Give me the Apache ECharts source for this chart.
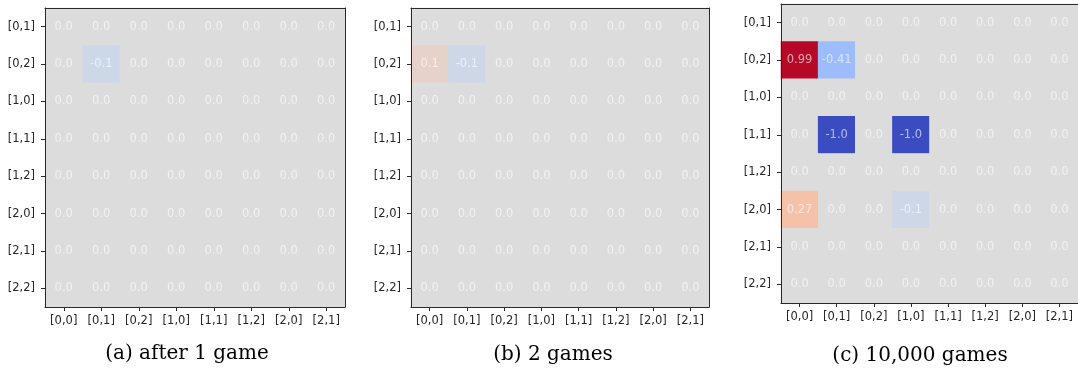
<!DOCTYPE html>
<html><head><meta charset="utf-8">
<script src="https://cdn.jsdelivr.net/npm/echarts@6/dist/echarts.min.js"></script>
<style>html,body{margin:0;padding:0;background:#fff}#c{width:1078px;height:368px}</style>
</head><body><div id="c"></div>
<script>
const xLabels = ['[0,0]','[0,1]','[0,2]','[1,0]','[1,1]','[1,2]','[2,0]','[2,1]'];
const yLabels = ['[0,1]','[0,2]','[1,0]','[1,1]','[1,2]','[2,0]','[2,1]','[2,2]'];
const captions = ['(a) after 1 game', '(b) 2 games', '(c) 10,000 games'];
// rows follow yLabels (top to bottom), columns follow xLabels
const valuesA = [
  [0,0,0,0,0,0,0,0],
  [0,-0.1,0,0,0,0,0,0],
  [0,0,0,0,0,0,0,0],
  [0,0,0,0,0,0,0,0],
  [0,0,0,0,0,0,0,0],
  [0,0,0,0,0,0,0,0],
  [0,0,0,0,0,0,0,0],
  [0,0,0,0,0,0,0,0]
];
const valuesB = [
  [0,0,0,0,0,0,0,0],
  [0.1,-0.1,0,0,0,0,0,0],
  [0,0,0,0,0,0,0,0],
  [0,0,0,0,0,0,0,0],
  [0,0,0,0,0,0,0,0],
  [0,0,0,0,0,0,0,0],
  [0,0,0,0,0,0,0,0],
  [0,0,0,0,0,0,0,0]
];
const valuesC = [
  [0,0,0,0,0,0,0,0],
  [0.99,-0.41,0,0,0,0,0,0],
  [0,0,0,0,0,0,0,0],
  [0,-1.0,0,-1.0,0,0,0,0],
  [0,0,0,0,0,0,0,0],
  [0.27,0,0,-0.1,0,0,0,0],
  [0,0,0,0,0,0,0,0],
  [0,0,0,0,0,0,0,0]
];
const coolwarm = ['#3b4cc0','#6282ea','#8db0fe','#b8d0f9','#dddcdc','#f5c4ac','#f49a7b','#dc5d4a','#b40426'];

const grids = [
  {left:45, top:8, width:300, height:299},
  {left:411, top:8, width:298, height:299},
  {left:781, top:4, width:299, height:299}
];
const capPos = [[187,354],[553,355],[920,356]];
const panels = [valuesA, valuesB, valuesC];

function toData(m){
  const out = [];
  m.forEach((row, r) => row.forEach((v, c) => out.push([c, r, v])));
  return out;
}
function fmt(v){ return Number.isInteger(v) ? v.toFixed(1) : String(v); }

const lineStyle = {color:'#2a2a2a', width:1};
const xAxes = [], yAxes = [];
grids.forEach((g,i) => {
  xAxes.push({type:'category', gridIndex:i, data:xLabels, position:'bottom', z:10,
    axisLine:{show:true, lineStyle},
    axisTick:{show:true, alignWithLabel:true, length:4, lineStyle},
    axisLabel:{color:'#262626', fontFamily:'DejaVu Sans', fontSize:11.5, margin:8, interval:0},
    splitLine:{show:false}});
  xAxes.push({type:'category', gridIndex:i, data:xLabels, position:'top', z:10,
    axisLine:{show:true, onZero:false, lineStyle}, axisTick:{show:false}, axisLabel:{show:false}, splitLine:{show:false}});
  yAxes.push({type:'category', gridIndex:i, data:yLabels, inverse:true, position:'left', z:10,
    axisLine:{show:true, lineStyle},
    axisTick:{show:true, alignWithLabel:true, length:4, lineStyle},
    axisLabel:{color:'#262626', fontFamily:'DejaVu Sans', fontSize:11.5, margin:10, interval:0},
    splitLine:{show:false}});
  yAxes.push({type:'category', gridIndex:i, data:yLabels, inverse:true, position:'right', z:10,
    axisLine:{show:true, onZero:false, lineStyle}, axisTick:{show:false}, axisLabel:{show:false}, splitLine:{show:false}});
});

const chart = echarts.init(document.getElementById('c'), null, {renderer:'canvas'});
chart.setOption({
  animation:false,
  backgroundColor:'#ffffff',
  grid: grids.map(g => Object.assign({show:true, borderWidth:0, backgroundColor:'#dddcdc'}, g)),
  xAxis: xAxes,
  yAxis: yAxes,
  visualMap:{show:false, min:-1, max:1, seriesIndex:[0,1,2], inRange:{color:coolwarm}},
  series: panels.map((m,i) => ({
    type:'heatmap', xAxisIndex:2*i, yAxisIndex:2*i, data:toData(m), z:2,
    itemStyle:{borderWidth:0},
    label:{show:true, color:'rgba(255,255,255,0.62)', fontFamily:'DejaVu Sans', fontSize:11.5,
      formatter: p => fmt(p.value[2])}
  })),
  graphic: captions.map((t,i) => ({
    type:'text', x:capPos[i][0], y:capPos[i][1],
    style:{text:t, fill:'#000', font:'20px "DejaVu Serif"', textAlign:'center', textVerticalAlign:'middle'}
  }))
});
</script></body></html>
